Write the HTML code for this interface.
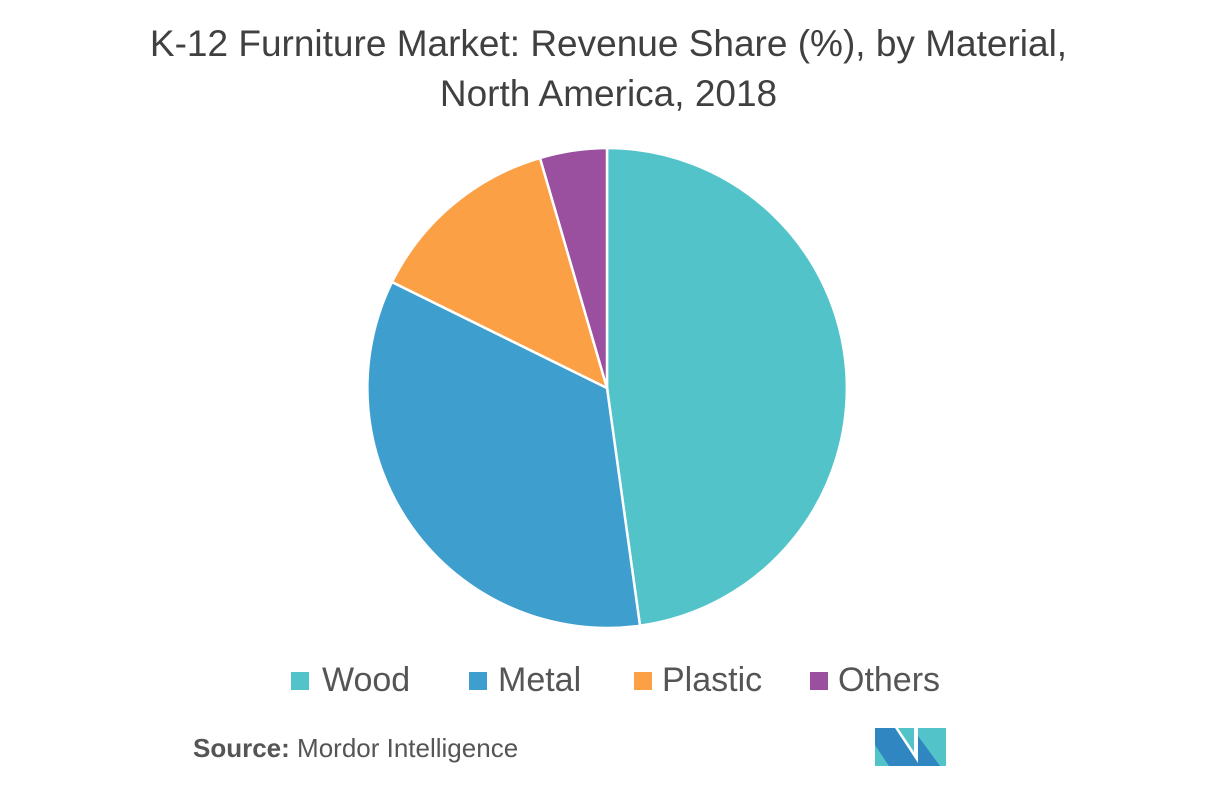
<!DOCTYPE html>
<html><head><style>
body{margin:0;background:#fff;width:1217px;height:786px;overflow:hidden;font-family:"Liberation Sans",sans-serif}
.t{position:absolute;left:0;width:1217px;text-align:center;color:#404040;font-size:37px;line-height:50px}
.lg{position:absolute;top:660px;font-size:34px;color:#555;line-height:40px}
.sq{position:absolute;top:672px;width:18px;height:18px}
</style></head><body>
<div class="t" style="top:19px">K-12 Furniture Market: Revenue Share (%), by Material,<br>North America, 2018</div>
<svg width="1217" height="786" style="position:absolute;left:0;top:0">
<g stroke="#fff" stroke-width="2.5">
<path d="M607,388 L607,148 A240,240 0 0 1 640,625.7 Z" fill="#52c4c9"/>
<path d="M607,388 L640,625.7 A240,240 0 0 1 392,282 Z" fill="#3e9fcf"/>
<path d="M607,388 L392,282 A240,240 0 0 1 540,158 Z" fill="#fca046"/>
<path d="M607,388 L540,158 A240,240 0 0 1 607,148 Z" fill="#9a4f9f"/>
</g>
<polygon points="875,728 895,728 920,766 875,766" fill="#2f86c1"/>
<polygon points="875,745 889,766 875,766" fill="#52c4c9"/>
<polygon points="898,728 914,728 914,752" fill="#52c4c9"/>
<polygon points="918,728 946,728 946,766 918,766" fill="#52c4c9"/>
<polygon points="918,736 940,766 918,766" fill="#2f86c1"/>
</svg>
<div class="sq" style="left:291px;background:#52c4c9"></div><div class="lg" style="left:322px">Wood</div>
<div class="sq" style="left:469px;background:#3e9fcf"></div><div class="lg" style="left:498px">Metal</div>
<div class="sq" style="left:634px;background:#fca046"></div><div class="lg" style="left:662px">Plastic</div>
<div class="sq" style="left:810px;background:#9a4f9f"></div><div class="lg" style="left:838px">Others</div>
<div style="position:absolute;left:193px;top:733px;font-size:26px;color:#555"><b>Source:</b> Mordor Intelligence</div>
</body></html>
